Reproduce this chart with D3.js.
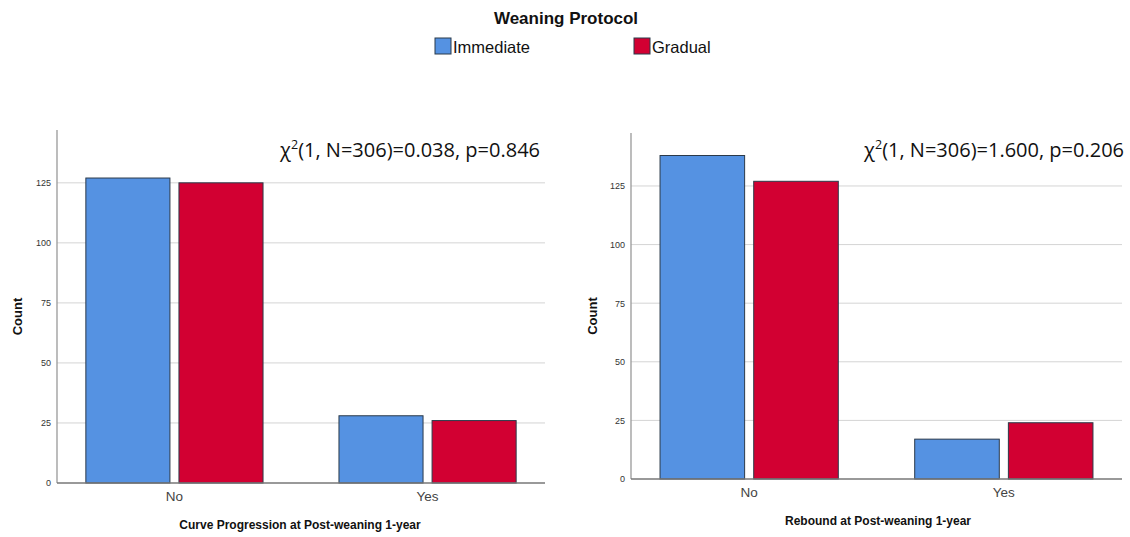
<!DOCTYPE html>
<html><head><meta charset="utf-8">
<script src="https://cdn.jsdelivr.net/npm/d3@7"></script>
<style>body{margin:0;background:#fff;font-family:"Liberation Sans",Arial,sans-serif}</style>
</head><body><svg id="c" width="1130" height="537"></svg>
<script>
const categories = ["No", "Yes"];
const groups = ["Immediate", "Gradual"];
const colors = ["#5592e2", "#d20032"];
const curveValues = [[127, 125], [28, 26]];       // [category][group]
const reboundValues = [[138, 127], [17, 24]];
const yTicks = [0, 25, 50, 75, 100, 125];
const panelTitles = ["Curve Progression at Post-weaning 1-year", "Rebound at Post-weaning 1-year"];
const annotations = ["(1, N=306)=0.038, p=0.846", "(1, N=306)=1.600, p=0.206"];

const svg = d3.select("#c");

// Legend
svg.append("text").attr("x", 566).attr("y", 24).attr("text-anchor", "middle")
  .attr("font-size", 17).attr("font-weight", "bold").attr("fill", "#111").text("Weaning Protocol");
const legX = [435, 634];
groups.forEach((g, i) => {
  svg.append("rect").attr("x", legX[i]).attr("y", 38).attr("width", 16).attr("height", 16)
    .attr("fill", colors[i]).attr("stroke", "#2b3a4a").attr("stroke-width", 1);
  svg.append("text").attr("x", legX[i] + 18).attr("y", 53).attr("font-size", 16.5).attr("fill", "#111").text(g);
});

function panel(vals, opt) {
  const y = d3.scaleLinear().domain([0, opt.ymax]).range([opt.y0, opt.y1]);
  const x = d3.scaleBand().domain(categories).range([opt.x0, opt.x1]).paddingInner(0.3).paddingOuter(0.114);
  const xs = d3.scaleBand().domain(groups).range([0, x.bandwidth()]).paddingInner(0.097);
  const g = svg.append("g");
  // grid
  g.selectAll(".grid").data(yTicks.filter(t => t > 0)).join("line")
    .attr("x1", opt.x0).attr("x2", opt.x1).attr("y1", d => y(d)).attr("y2", d => y(d))
    .attr("stroke", "#d4d4d4").attr("stroke-width", 1);
  // y axis
  const ya = g.append("g").attr("transform", `translate(${opt.x0},0)`)
    .call(d3.axisLeft(y).tickValues(yTicks).tickSize(0).tickPadding(6));
  ya.select(".domain").remove();
  ya.selectAll("text").attr("font-size", 9).attr("fill", "#333").attr("font-family", "Liberation Sans, Arial");
  g.append("line").attr("x1", opt.x0).attr("x2", opt.x0).attr("y1", opt.y1).attr("y2", opt.y0)
    .attr("stroke", "#999").attr("stroke-width", 1.3);
  // bars
  categories.forEach((c, ci) => {
    groups.forEach((gr, gi) => {
      g.append("rect").attr("x", x(c) + xs(gr)).attr("y", y(vals[ci][gi]))
        .attr("width", xs.bandwidth()).attr("height", y(0) - y(vals[ci][gi]))
        .attr("fill", colors[gi]).attr("stroke", "#2b3a4a").attr("stroke-width", 1);
    });
  });
  // x axis
  g.append("line").attr("x1", opt.x0).attr("x2", opt.x1).attr("y1", opt.y0).attr("y2", opt.y0)
    .attr("stroke", "#777").attr("stroke-width", 1.3);
  const xa = g.append("g").attr("transform", `translate(0,${opt.y0})`)
    .call(d3.axisBottom(x).tickSize(0).tickPadding(8));
  xa.select(".domain").remove();
  xa.selectAll("text").attr("font-size", 13.5).attr("fill", "#444").attr("font-family", "Liberation Sans, Arial");
  // titles
  g.append("text").attr("transform", `translate(${opt.ylabX},${(opt.y0 + opt.y1) / 2 + 10}) rotate(-90)`)
    .attr("text-anchor", "middle").attr("font-size", 13).attr("font-weight", "bold").attr("fill", "#111").text("Count");
  g.append("text").attr("x", opt.titleX).attr("y", opt.titleY).attr("text-anchor", "middle")
    .attr("font-size", 12).attr("font-weight", "bold").attr("fill", "#111").text(opt.title);
  const t = g.append("text").attr("x", opt.annX).attr("y", opt.annY).attr("text-anchor", "end")
    .attr("font-size", 20).attr("fill", "#111").attr("font-family", "Open Sans, Liberation Sans");
  t.append("tspan").text("χ");
  t.append("tspan").attr("font-size", 12.5).attr("dy", -8).text("2");
  t.append("tspan").attr("dy", 8).text(opt.ann);
}

panel(curveValues, {x0: 57, x1: 545, y0: 483, y1: 130, ymax: 147, ylabX: 22,
  title: panelTitles[0], titleX: 300, titleY: 529, annX: 540, annY: 157, ann: annotations[0]});
panel(reboundValues, {x0: 631, x1: 1122, y0: 479, y1: 133, ymax: 147.6, ylabX: 597,
  title: panelTitles[1], titleX: 878, titleY: 525, annX: 1124, annY: 157, ann: annotations[1]});
</script></body></html>
